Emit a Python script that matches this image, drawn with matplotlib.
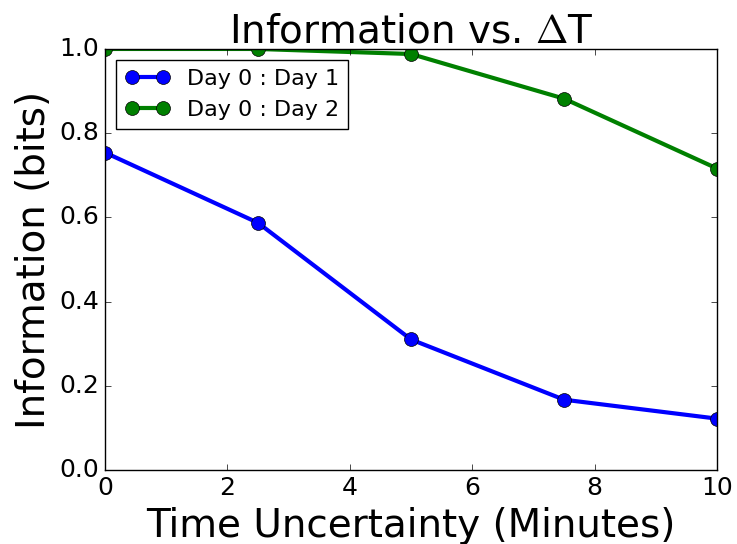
import matplotlib
matplotlib.use("Agg")
import matplotlib.pyplot as plt

plt.style.use("classic")

# Time uncertainty (minutes) and mutual information (bits)
dt_minutes = [0, 2.5, 5, 7.5, 10]
info_day1 = [0.754, 0.587, 0.310, 0.167, 0.122]
info_day2 = [1.0, 1.0, 0.988, 0.882, 0.716]

fig = plt.figure(figsize=(7.37, 5.44), dpi=100)
ax = fig.add_axes([0.1425, 0.136, 0.8305, 0.774])

ax.plot(dt_minutes, info_day1, "o-", color="b", lw=3, ms=10, label="Day 0 : Day 1")
ax.plot(dt_minutes, info_day2, "o-", color="g", lw=3, ms=10, label="Day 0 : Day 2")

ax.set_xlim(0, 10)
ax.set_ylim(0, 1.0)
ax.tick_params(labelsize=18)
ax.set_xlabel("Time Uncertainty (Minutes)", fontsize=28)
ax.set_ylabel("Information (bits)", fontsize=28)
ax.set_title("Information vs. $\\Delta$T", fontsize=28)
ax.legend(loc="upper left", fontsize=16, numpoints=2)

fig.savefig("out.png", dpi=100, facecolor="white")
